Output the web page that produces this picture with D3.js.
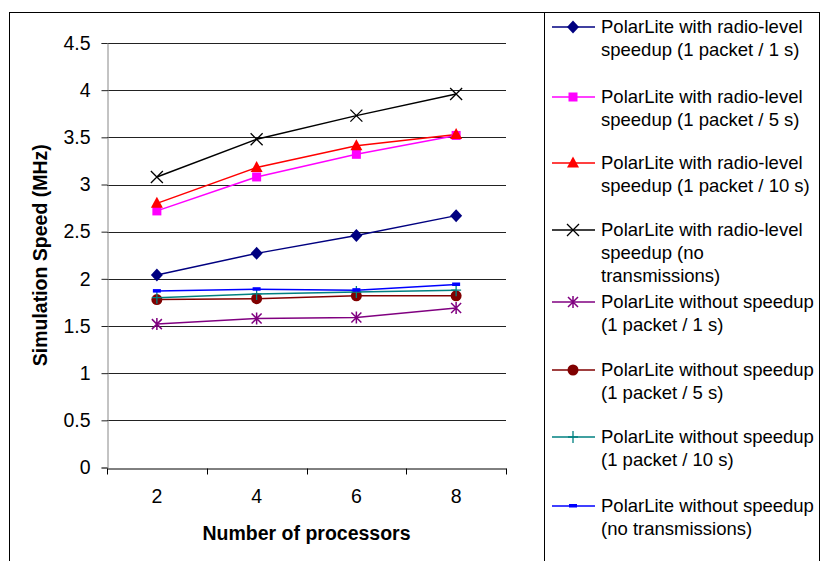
<!DOCTYPE html>
<html>
<head>
<meta charset="utf-8">
<script src="https://cdn.jsdelivr.net/npm/d3@7"></script>
<style>
  body { margin: 0; background: #fff; }
  svg text { font-family: "Liberation Sans", Arial, sans-serif; }
</style>
</head>
<body>
<svg id="chart" width="822" height="561"></svg>
<script>
// categories (number of processors)
var processors = ["2", "4", "6", "8"];

// series values
var radio1s   = [2.04, 2.27, 2.46, 2.67];
var radio5s   = [2.72, 3.08, 3.32, 3.52];
var radio10s  = [2.80, 3.18, 3.41, 3.53];
var radioNone = [3.08, 3.48, 3.73, 3.96];
var plain1s   = [1.52, 1.58, 1.59, 1.69];
var plain5s   = [1.78, 1.79, 1.82, 1.82];
var plain10s  = [1.80, 1.84, 1.86, 1.88];
var plainNone = [1.87, 1.89, 1.88, 1.94];

var yTicks = [0, 0.5, 1, 1.5, 2, 2.5, 3, 3.5, 4, 4.5];

var series = [
    { name: ["PolarLite with radio-level", "speedup (1 packet / 1 s)"], values: radio1s, color: "#000080", marker: "diamond" },
    { name: ["PolarLite with radio-level", "speedup (1 packet / 5 s)"], values: radio5s, color: "#ff00ff", marker: "square" },
    { name: ["PolarLite with radio-level", "speedup (1 packet / 10 s)"], values: radio10s, color: "#ff0000", marker: "triangle" },
    { name: ["PolarLite with radio-level", "speedup (no", "transmissions)"], values: radioNone, color: "#000000", marker: "x" },
    { name: ["PolarLite without speedup", "(1 packet / 1 s)"], values: plain1s, color: "#800080", marker: "star" },
    { name: ["PolarLite without speedup", "(1 packet / 5 s)"], values: plain5s, color: "#800000", marker: "circle" },
    { name: ["PolarLite without speedup", "(1 packet / 10 s)"], values: plain10s, color: "#008080", marker: "plus" },
    { name: ["PolarLite without speedup", "(no transmissions)"], values: plainNone, color: "#0000ff", marker: "dash" }
];

var svg = d3.select("#chart");

var plot = { left: 107, right: 506, top: 43, bottom: 467.5 };

// outer frame
svg.append("rect")
   .attr("x", 9.5).attr("y", 12.5)
   .attr("width", 810).attr("height", 560)
   .attr("fill", "none").attr("stroke", "#000");

var xScale = d3.scaleBand()
               .domain(processors)
               .range([plot.left, plot.right])
               .paddingInner(0).paddingOuter(0);

var yScale = d3.scaleLinear()
               .domain([0, 4.5])
               .range([plot.bottom, plot.top]);

var cx = d => xScale(d) + xScale.bandwidth() / 2;

// gridlines
svg.append("g")
   .selectAll("line")
   .data(yTicks.filter(t => t > 0))
   .enter()
   .append("line")
   .attr("x1", plot.left).attr("x2", plot.right)
   .attr("y1", d => Math.round(yScale(d)) + 0.5)
   .attr("y2", d => Math.round(yScale(d)) + 0.5)
   .attr("stroke", "#222").attr("stroke-width", 1);

// y axis
var yAxis = svg.append("g")
   .attr("transform", `translate(${plot.left + 0.5},0)`)
   .call(d3.axisLeft(yScale).tickValues(yTicks).tickSize(6).tickPadding(11).tickFormat(d3.format("")));
yAxis.select(".domain").attr("stroke", "#888");
yAxis.selectAll(".tick line").attr("stroke", "#222");
yAxis.selectAll("text").attr("font-size", "19.5px").attr("fill", "#000")
     .attr("font-family", "Liberation Sans, Arial, sans-serif");

// x axis
var xAxis = svg.append("g")
   .attr("transform", `translate(0,${Math.round(plot.bottom) + 0.5})`)
   .call(d3.axisBottom(xScale).tickSize(0).tickPadding(21));
xAxis.select(".domain").attr("stroke", "#000");
xAxis.selectAll("text").attr("font-size", "19.5px").attr("fill", "#000")
     .attr("font-family", "Liberation Sans, Arial, sans-serif");

// x tick marks at category boundaries
var xBounds = processors.map(d => xScale(d)).concat([plot.right]);
xAxis.selectAll(".bound")
     .data(xBounds)
     .enter()
     .append("line")
     .attr("x1", d => Math.round(d) + 0.5).attr("x2", d => Math.round(d) + 0.5)
     .attr("y1", 0).attr("y2", 6)
     .attr("stroke", "#000");

// axis titles
svg.append("text")
   .attr("x", (plot.left + plot.right) / 2)
   .attr("y", 540)
   .attr("text-anchor", "middle")
   .attr("font-size", "19.5px").attr("font-weight", "bold")
   .text("Number of processors");

svg.append("text")
   .attr("transform", `translate(47,${(plot.top + plot.bottom) / 2}) rotate(-90)`)
   .attr("text-anchor", "middle")
   .attr("font-size", "19.5px").attr("font-weight", "bold")
   .text("Simulation Speed (MHz)");

// marker drawing
function drawMarker(g, type, color) {
    if (type === "diamond") {
        g.append("path").attr("d", "M0,-6.5L6,0L0,6.5L-6,0Z").attr("fill", color);
    } else if (type === "square") {
        g.append("rect").attr("x", -4.5).attr("y", -4.5).attr("width", 9).attr("height", 9).attr("fill", color);
    } else if (type === "triangle") {
        g.append("path").attr("d", "M0,-6.5L6,4.5L-6,4.5Z").attr("fill", color);
    } else if (type === "x") {
        g.append("path").attr("d", "M-6,-6L6,6M-6,6L6,-6").attr("stroke", color).attr("stroke-width", 1.3).attr("fill", "none");
    } else if (type === "star") {
        g.append("path").attr("d", "M-5,-5L5,5M-5,5L5,-5M0,-6L0,6").attr("stroke", color).attr("stroke-width", 1.5).attr("fill", "none");
    } else if (type === "circle") {
        g.append("circle").attr("r", 5.5).attr("fill", color);
    } else if (type === "plus") {
        g.append("path").attr("d", "M0,-6L0,6M-5,0L5,0").attr("stroke", color).attr("stroke-width", 1.3).attr("fill", "none");
    } else if (type === "dash") {
        g.append("rect").attr("x", -4).attr("y", -2).attr("width", 8).attr("height", 3.5).attr("fill", color);
    }
}

var line = d3.line()
             .x((d, i) => cx(processors[i]))
             .y(d => yScale(d));

// lines first, then markers
series.forEach(s => {
    svg.append("path")
       .datum(s.values)
       .attr("d", line)
       .attr("fill", "none")
       .attr("stroke", s.color)
       .attr("stroke-width", 1.5);
});

series.forEach(s => {
    s.values.forEach((v, i) => {
        var g = svg.append("g").attr("transform", `translate(${cx(processors[i])},${yScale(v)})`);
        drawMarker(g, s.marker, s.color);
    });
});

// legend
svg.append("rect")
   .attr("x", 544.5).attr("y", 12.5)
   .attr("width", 275).attr("height", 560)
   .attr("fill", "#fff").attr("stroke", "#000");

var legendY = [27, 97, 163, 230, 302, 370, 437, 506];

var legend = svg.append("g");

series.forEach((s, i) => {
    var y = legendY[i];
    var g = legend.append("g").attr("transform", `translate(0,${y})`);
    g.append("line")
     .attr("x1", 552).attr("x2", 595)
     .attr("y1", 0).attr("y2", 0)
     .attr("stroke", s.color).attr("stroke-width", 1.5);
    var m = g.append("g").attr("transform", "translate(573,0)");
    drawMarker(m, s.marker, s.color);
    s.name.forEach((t, j) => {
        g.append("text")
         .attr("x", 601)
         .attr("y", j * 23)
         .attr("dy", "0.35em")
         .attr("font-size", "18.5px")
         .attr("fill", "#000")
         .text(t);
    });
});
</script>
</body>
</html>
